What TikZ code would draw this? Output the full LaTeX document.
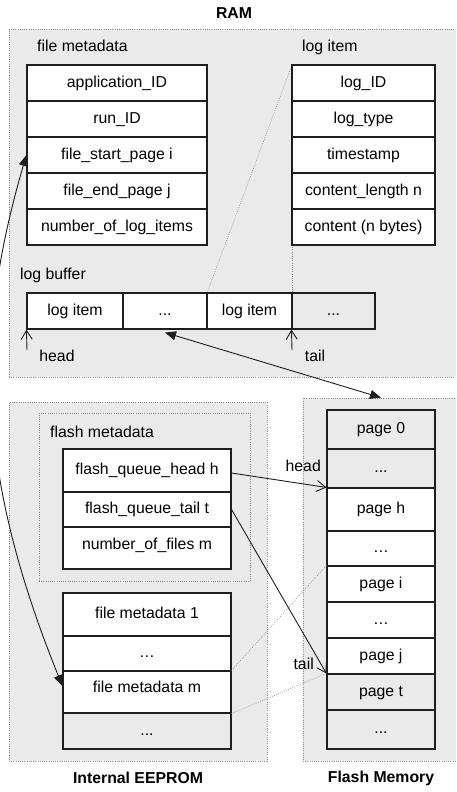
\documentclass[tikz,border=0pt]{standalone}
\usepackage{fontspec}
\setmainfont{Liberation Sans}
\usetikzlibrary{arrows.meta}
\definecolor{bggray}{RGB}{234,234,234}
\definecolor{dotgray}{RGB}{140,140,140}
\definecolor{linec}{RGB}{30,30,30}
\tikzset{
  container/.style={draw=dotgray, fill=bggray, line width=0.7pt, dash pattern=on 0.7pt off 1.5pt, inner sep=0pt},
  cell/.style={draw=linec, fill=white, line width=1.1pt, inner sep=0pt, text height=11.3pt, text depth=3pt},
  graycell/.style={cell, fill=bggray},
  lbl/.style={inner sep=0pt, text height=11.3pt, text depth=3pt},
  title/.style={inner sep=0pt, font=\fontsize{15.8}{19}\selectfont\bfseries},
  dotline/.style={draw=dotgray, line width=0.7pt, dash pattern=on 0.7pt off 1.5pt},
  conn/.style={draw=linec, line width=0.9pt},
  openarrow/.style={conn, -{Straight Barb[length=9pt,width=11pt,line width=0.9pt]}},
  filledarrows/.style={conn, {Triangle[length=11pt,width=9pt]}-{Triangle[length=11pt,width=9pt]}},
}
\begin{document}
\begin{tikzpicture}[x=1pt,y=-1pt,font=\fontsize{15.8}{19}\selectfont]
\useasboundingbox (0,0) rectangle (456,792);
\clip (0,0) rectangle (456,792);

% containers
\node[container, minimum width=461, minimum height=348] (ram) at (239.5,203) {};
\node[container, minimum width=258, minimum height=359] (eeprom) at (138,581.5) {};
\node[container, minimum width=156, minimum height=363] (flash) at (381,579.5) {};
\node[container, minimum width=211, minimum height=168] (fmeta) at (144.5,497) {};

% titles
\node[title] (tram) at (234,13) {RAM};
\node[title] (teeprom) at (138,778) {Internal EEPROM};
\node[title] (tflash) at (381,778) {Flash Memory};

% labels
\node[lbl, anchor=west] (lfm) at (37,47) {file metadata};
\node[lbl, anchor=west] (lli) at (302,47) {log item};
\node[lbl, anchor=west] (lbuf) at (20,275) {log buffer};
\node[lbl, anchor=west] (lflm) at (50,433) {flash metadata};

% dotted links log item -> buffer (drawn below cells)
\coordinate (b3nw) at (207,293);
\coordinate (b3ne) at (292,293);
\coordinate (li1nw) at (292,65);
\coordinate (li5sw) at (292,245);
\draw[dotline] (li1nw) -- (b3nw);
\draw[dotline] (li5sw) -- (b3ne);

% file metadata table
\node[cell, minimum width=180, minimum height=36] (fm1) at (117,83) {application\_ID};
\node[cell, minimum width=180, minimum height=36] (fm2) at (117,119) {run\_ID};
\node[cell, minimum width=180, minimum height=36] (fm3) at (117,155) {file\_start\_page i};
\node[cell, minimum width=180, minimum height=36] (fm4) at (117,191) {file\_end\_page j};
\node[cell, minimum width=180, minimum height=36] (fm5) at (117,227) {number\_of\_log\_items};

% log item table
\node[cell, minimum width=143, minimum height=36] (li1) at (363.5,83) {log\_ID};
\node[cell, minimum width=143, minimum height=36] (li2) at (363.5,119) {log\_type};
\node[cell, minimum width=143, minimum height=36] (li3) at (363.5,155) {timestamp};
\node[cell, minimum width=143, minimum height=36] (li4) at (363.5,191) {content\_length n};
\node[cell, minimum width=143, minimum height=36] (li5) at (363.5,227) {content (n bytes)};

% log buffer
\node[cell, minimum width=96, minimum height=36] (buf1) at (75,311) {log item};
\node[cell, minimum width=84, minimum height=36] (buf2) at (165,311) {...};
\node[cell, minimum width=85, minimum height=36] (buf3) at (249.5,311) {log item};
\node[graycell, minimum width=83, minimum height=36] (buf4) at (333.5,311) {...};

% head / tail of buffer
\coordinate (bh) at (27,350);
\coordinate (bt) at (292,350);
\draw[openarrow] (bh) -- (buf1.south west);
\draw[openarrow] (bt) -- (buf4.south west);
\node[lbl] (lbh) at (57,357) {head};
\node[lbl] (lbt) at (315,357) {tail};

% flash metadata table
\node[cell, minimum width=168, minimum height=43] (fq1) at (147,470.5) {flash\_queue\_head h};
\node[cell, minimum width=168, minimum height=35] (fq2) at (147,509.5) {flash\_queue\_tail t};
\node[cell, minimum width=168, minimum height=42] (fq3) at (147,548) {};
\node[lbl] (fq3t) at (147,545) {number\_of\_files m};

% file metadata list
\node[cell, minimum width=168, minimum height=43] (fmd1) at (147,614.5) {file metadata 1};
\node[cell, minimum width=168, minimum height=35] (fmd2) at (147,653.5) {…};
\node[cell, minimum width=168, minimum height=42] (fmd3) at (147,692) {};
\node[lbl] (fmd3t) at (147,688) {file metadata m};
\node[graycell, minimum width=168, minimum height=36] (fmd4) at (147,731) {...};

% pages
\node[graycell, minimum width=108, minimum height=39] (pg1) at (381,429.5) {page 0};
\node[graycell, minimum width=108, minimum height=39] (pg2) at (381,468.5) {...};
\node[cell, minimum width=108, minimum height=43] (pg3) at (381,509.5) {page h};
\node[cell, minimum width=108, minimum height=35] (pg4) at (381,548.5) {…};
\node[cell, minimum width=108, minimum height=36] (pg5) at (381,584) {page i};
\node[cell, minimum width=108, minimum height=36] (pg6) at (381,620) {…};
\node[cell, minimum width=108, minimum height=36] (pg7) at (381,656) {page j};
\node[graycell, minimum width=108, minimum height=36] (pg8) at (381,692) {page t};
\node[graycell, minimum width=108, minimum height=39] (pg9) at (381,729.5) {...};

% dotted links file metadata m -> pages
\draw[dotline] (fmd3.north east) -- (pg5.north west);
\draw[dotline] (fmd3.south east) -- (pg8.north west);

% head / tail pointers into flash
\draw[openarrow] ([yshift=-2.5pt]fq1.east) -- (pg3.north west);
\draw[openarrow] (fq2.east) -- (pg8.north west);
\node[lbl, anchor=east] (lfh) at (321,467) {head};
\node[lbl, anchor=east] (lft) at (314,665) {tail};

% buffer <-> flash
\draw[filledarrows] ([yshift=-3pt]buf2.south) -- (flash.north);

% file_start_page <-> file metadata m
\draw[filledarrows] (fm3.west) .. controls (-25,330) and (-25,470) .. ([yshift=6pt]fmd3.west);
\end{tikzpicture}
\end{document}
